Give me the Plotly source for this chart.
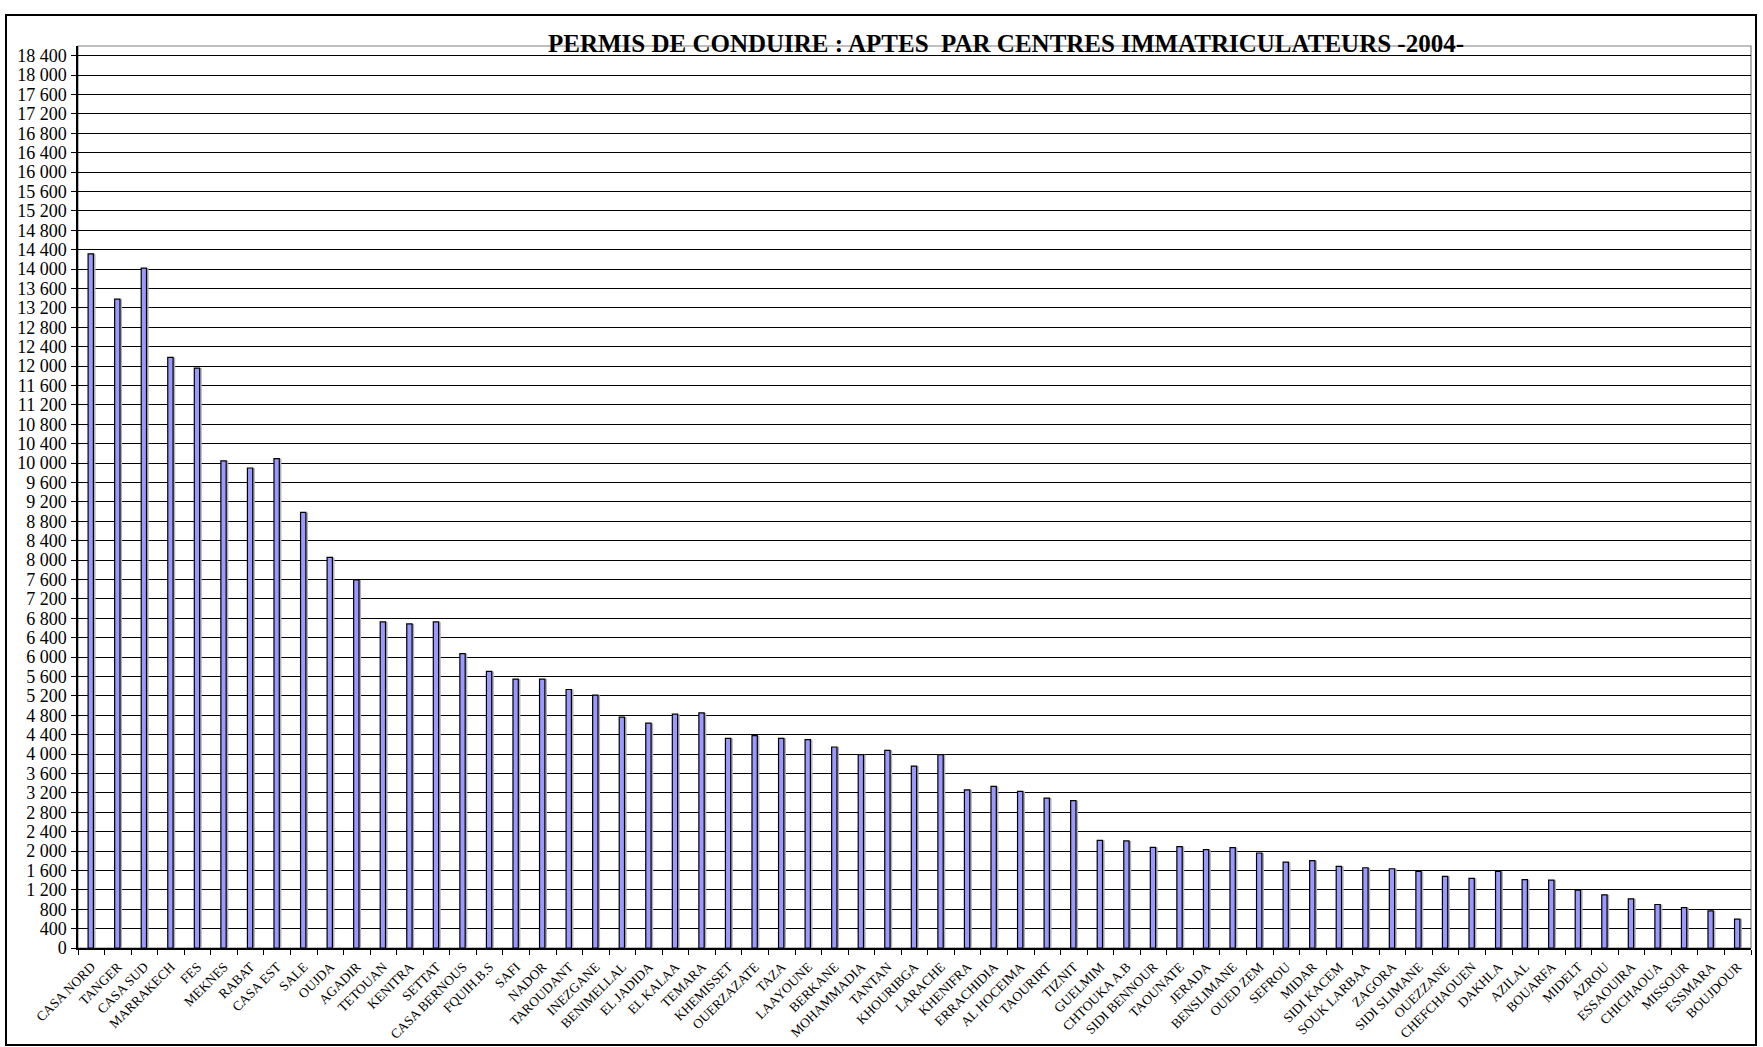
import plotly.graph_objects as go

centres = [
    "CASA NORD", "TANGER", "CASA SUD", "MARRAKECH", "FES", "MEKNES", "RABAT", "CASA EST",
    "SALE", "OUJDA", "AGADIR", "TETOUAN", "KENITRA", "SETTAT", "CASA BERNOUS", "FQUIH.B.S",
    "SAFI", "NADOR", "TAROUDANT", "INEZGANE", "BENIMELLAL", "EL JADIDA", "EL KALAA", "TEMARA",
    "KHEMISSET", "OUERZAZATE", "TAZA", "LAAYOUNE", "BERKANE", "MOHAMMADIA", "TANTAN",
    "KHOURIBGA", "LARACHE", "KHENIFRA", "ERRACHIDIA", "AL HOCEIMA", "TAOURIRT", "TIZNIT",
    "GUELMIM", "CHTOUKA A.B", "SIDI BENNOUR", "TAOUNATE", "JERADA", "BENSLIMANE", "OUED ZEM",
    "SEFROU", "MIDAR", "SIDI KACEM", "SOUK LARBAA", "ZAGORA", "SIDI SLIMANE", "OUEZZANE",
    "CHEFCHAOUEN", "DAKHLA", "AZILAL", "BOUARFA", "MIDELT", "AZROU", "ESSAOUIRA", "CHICHAOUA",
    "MISSOUR", "ESSMARA", "BOUJDOUR",
]

aptes = [
    14315, 13380, 14020, 12178, 11958, 10045, 9898, 10092,
    8982, 8055, 7588, 6724, 6683, 6724, 6069, 5703,
    5545, 5545, 5331, 5214, 4760, 4637, 4821, 4848,
    4324, 4379, 4324, 4297, 4145, 3986, 4076,
    3752, 3986, 3262, 3331, 3228, 3092, 3037,
    2221, 2207, 2076, 2090, 2028, 2069, 1959,
    1772, 1800, 1683, 1655, 1634, 1579, 1476,
    1434, 1579, 1410, 1400, 1193, 1097, 1014, 897,
    834, 766, 595,
]

y_tick_values = list(range(0, 18401, 400))
title_text = "PERMIS DE CONDUIRE : APTES  PAR CENTRES IMMATRICULATEURS -2004-"

W, H = 1763, 1047
L, R, T, B = 78, 1751, 46, 948
pw, ph = R - L, B - T

serif = "Liberation Serif, Times New Roman, serif"

fig = go.Figure()
# shadow
fig.add_trace(go.Bar(
    x=centres, y=aptes, width=0.2, offset=-0.04,
    marker=dict(color="#b0b0b0", line=dict(width=0)),
    hoverinfo="skip", showlegend=False,
))
fig.add_trace(go.Bar(
    x=centres, y=aptes, width=0.2, offset=-0.12,
    marker=dict(color="#9999FF", line=dict(color="black", width=1.2)),
    showlegend=False,
))

def px_x(p):
    return (p - L) / pw

def px_y(p):
    return (B - p) / ph

fig.update_layout(
    width=W, height=H,
    margin=dict(l=L, r=W - R, t=T, b=H - B, pad=0, autoexpand=False),
    paper_bgcolor="white", plot_bgcolor="white",
    barmode="overlay",
    separators=", ",
    font=dict(family=serif, color="black"),
    title=dict(
        text=title_text,
        font=dict(family=serif, size=25, color="black", weight="bold"),
        x=px_x(1006), xref="paper", xanchor="center",
        y=1 - 43 / H, yref="container", yanchor="middle",
    ),
    xaxis=dict(
        type="category",
        automargin=False,
        tickangle=-45,
        tickfont=dict(family=serif, size=13.5, color="black"),
        ticks="outside", tickson="boundaries", ticklen=5, tickcolor="black", tickwidth=1.2,
        ticklabelstandoff=4,
        showline=True, linecolor="black", linewidth=1.5,
        showgrid=False, zeroline=False,
    ),
    yaxis=dict(
        range=[0, 18600],
        automargin=False,
        tickvals=y_tick_values,
        tickformat=",d",
        tickfont=dict(family=serif, size=18, color="black"),
        ticks="outside", ticklen=5, tickcolor="black", tickwidth=1.2,
        ticklabelstandoff=1,
        showline=True, linecolor="black", linewidth=1.5,
        showgrid=True, gridcolor="black", gridwidth=1.3,
        zeroline=False,
    ),
    shapes=[
        dict(type="rect", xref="paper", yref="paper", x0=0, y0=0, x1=1, y1=1,
             line=dict(color="#808080", width=1.2), layer="below"),
        dict(type="rect", xref="paper", yref="paper",
             x0=px_x(6), x1=px_x(1756), y0=px_y(1045), y1=px_y(15),
             line=dict(color="black", width=2), layer="above"),
    ],
)

fig.write_html(
    "out.html",
    config={"displayModeBar": False},
    post_script="document.body.style.margin='0';document.body.style.overflow='hidden';",
)
